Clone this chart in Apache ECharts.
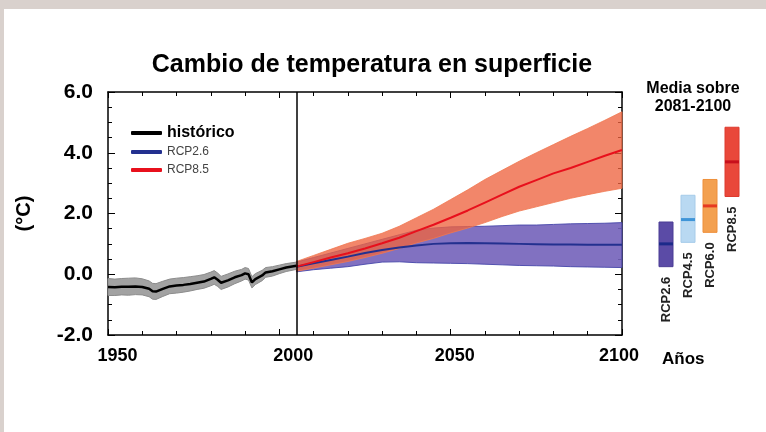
<!DOCTYPE html>
<html><head><meta charset="utf-8">
<script src="https://cdn.jsdelivr.net/npm/echarts@6/dist/echarts.min.js"></script>
<style>html,body{margin:0;padding:0;background:#fff}#c{width:766px;height:432px}</style>
</head><body><div id="c"></div>
<script>
// ---------- data ----------
const xTicks = [1950, 2000, 2050, 2100];
const histYears = [1950,1952,1954,1956,1958,1960,1962,1963,1964,1966,1968,1970,1972,1974,1976,1978,1980,1981,1982,1983,1985,1987,1989,1990,1991,1992,1993,1995,1996,1998,2000,2002,2005];
const histMean  = [-0.42,-0.43,-0.41,-0.41,-0.40,-0.42,-0.48,-0.56,-0.57,-0.48,-0.40,-0.37,-0.35,-0.32,-0.28,-0.24,-0.15,-0.10,-0.18,-0.28,-0.20,-0.10,-0.03,0.03,0.00,-0.27,-0.16,-0.04,0.06,0.10,0.16,0.22,0.28];
const histLow   = [-0.70,-0.70,-0.68,-0.69,-0.67,-0.68,-0.74,-0.82,-0.83,-0.73,-0.64,-0.62,-0.59,-0.55,-0.50,-0.46,-0.38,-0.33,-0.40,-0.50,-0.42,-0.31,-0.22,-0.16,-0.19,-0.45,-0.34,-0.21,-0.10,-0.06,0.02,0.09,0.16];
const histHigh  = [-0.14,-0.16,-0.14,-0.13,-0.12,-0.15,-0.22,-0.30,-0.31,-0.23,-0.16,-0.13,-0.11,-0.08,-0.05,-0.01,0.07,0.12,0.04,-0.07,0.01,0.10,0.16,0.22,0.19,-0.08,0.02,0.13,0.22,0.25,0.30,0.35,0.40];

const rcpYears  = [2005,2010,2015,2020,2025,2030,2035,2040,2045,2050,2055,2060,2065,2070,2075,2080,2085,2090,2095,2100];
const rcp26Mean = [0.25,0.36,0.47,0.58,0.70,0.80,0.88,0.95,1.00,1.02,1.03,1.02,1.01,1.00,0.99,0.98,0.98,0.97,0.97,0.97];
const rcp26Low  = [0.08,0.15,0.20,0.25,0.33,0.40,0.41,0.38,0.37,0.36,0.35,0.33,0.31,0.29,0.28,0.27,0.25,0.24,0.23,0.22];
const rcp26High = [0.40,0.55,0.70,0.85,1.00,1.15,1.30,1.45,1.52,1.56,1.57,1.58,1.60,1.62,1.62,1.64,1.66,1.67,1.68,1.70];
const rcp85Mean = [0.25,0.40,0.55,0.69,0.85,1.02,1.20,1.42,1.63,1.86,2.10,2.36,2.62,2.88,3.10,3.32,3.50,3.70,3.90,4.09];
const rcp85Low  = [0.10,0.20,0.31,0.42,0.55,0.69,0.85,1.03,1.18,1.36,1.52,1.70,1.90,2.08,2.22,2.36,2.50,2.62,2.73,2.83];
const rcp85High = [0.42,0.62,0.82,1.02,1.18,1.35,1.58,1.86,2.14,2.46,2.78,3.12,3.42,3.72,4.00,4.27,4.54,4.80,5.07,5.35];

const periodNames = ['RCP2.6','RCP4.5','RCP6.0','RCP8.5'];
const periodLow   = [0.25,1.05,1.38,2.56];
const periodHigh  = [1.72,2.60,3.12,4.84];
const periodMean  = [1.00,1.80,2.25,3.70];

// ---------- styles ----------
const FONT = 'Liberation Sans, Arial, Helvetica, sans-serif';
const panelStyles = [
  {fill:'#5b4ba6', stroke:'#4a3c94', mean:'#1c2a8a'},
  {fill:'#b9d9f2', stroke:'#a6cbe9', mean:'#3f95d8'},
  {fill:'#f3a050', stroke:'#ee8f3a', mean:'#e63a20'},
  {fill:'#e9483a', stroke:'#dd3a2e', mean:'#c8101c'}
];
const labelPad = {'1950':[0,0,0,19], '2000':[0,0,0,28], '2050':[0,0,0,8], '2100':[0,6,0,0]};

function band(years, lo, hi, fill, stroke) {
  return {
    type: 'custom', xAxisIndex: 0, yAxisIndex: 0, silent: true, z: 2,
    data: years.map((y, i) => [y, lo[i], hi[i]]),
    encode: {x: 0, y: [1, 2]},
    renderItem(params, api) {
      if (params.dataIndex !== 0) return {type: 'group', children: []};
      const pts = [];
      for (let i = 0; i < years.length; i++) pts.push(api.coord([years[i], hi[i]]));
      for (let i = years.length - 1; i >= 0; i--) pts.push(api.coord([years[i], lo[i]]));
      return {type: 'polygon', shape: {points: pts}, style: {fill: fill, stroke: stroke, lineWidth: 1}};
    }
  };
}

const axisLineStyle = {color: '#000', width: 1.5};
const rich = {};
xTicks.forEach(t => { rich['t' + t] = {fontSize: 18, fontWeight: 'bold', fontFamily: FONT, color: '#000', padding: labelPad[t]}; });

const option = {
  backgroundColor: '#fff',
  animation: false,
  title: [
    {text: 'Cambio de temperatura en superficie', left: 367, top: 48, textAlign: 'center',
     textStyle: {fontSize: 25, fontWeight: 'bold', fontFamily: FONT, color: '#000'}},
    {text: 'Media sobre\n2081-2100', left: 688, top: 75, textAlign: 'center',
     textStyle: {fontSize: 16, fontWeight: 'bold', fontFamily: FONT, color: '#000', lineHeight: 18}}
  ],
  legend: {
    orient: 'vertical', left: 126, top: 120, itemWidth: 31, itemHeight: 4, itemGap: 4,
    icon: 'roundRect',
    textStyle: {fontSize: 12, color: '#444', fontFamily: FONT, lineHeight: 14},
    data: [
      {name: 'histórico', textStyle: {fontSize: 16, fontWeight: 'bold', color: '#000'}},
      {name: 'RCP2.6'},
      {name: 'RCP8.5'}
    ]
  },
  grid: [
    {left: 108, top: 92, width: 514, height: 243},
    {left: 655, top: 92, width: 88, height: 243}
  ],
  xAxis: [
    {type: 'value', gridIndex: 0, min: 1950, max: 2100, interval: 50, position: 'bottom',
     axisLine: {onZero: false, lineStyle: axisLineStyle},
     axisTick: {inside: true, length: 6, lineStyle: {color: '#000', width: 1}},
     minorTick: {show: true, splitNumber: 5, length: 4, lineStyle: {color: '#000', width: 1}},
     splitLine: {show: false},
     axisLabel: {margin: 12, formatter: v => '{t' + v + '|' + v + '}', rich: rich},
     name: 'Años', nameLocation: 'end', nameGap: 40,
     nameTextStyle: {fontSize: 17, fontWeight: 'bold', fontFamily: FONT, color: '#000', verticalAlign: 'top', padding: [16, 0, 0, 0]}},
    {type: 'value', gridIndex: 0, min: 1950, max: 2100, interval: 50, position: 'top',
     axisLine: {onZero: false, lineStyle: axisLineStyle},
     axisTick: {inside: true, length: 6, lineStyle: {color: '#000', width: 1}},
     minorTick: {show: true, splitNumber: 5, length: 4, lineStyle: {color: '#000', width: 1}},
     splitLine: {show: false}, axisLabel: {show: false}},
    {type: 'category', gridIndex: 1, data: periodNames, show: false}
  ],
  yAxis: [
    {type: 'value', gridIndex: 0, min: -2, max: 6, interval: 2, position: 'left',
     axisLine: {show: true, onZero: false, lineStyle: axisLineStyle},
     axisTick: {show: true, inside: true, length: 7, lineStyle: {color: '#000', width: 1}},
     minorTick: {show: true, splitNumber: 4, length: 4, lineStyle: {color: '#000', width: 1}},
     splitLine: {show: false},
     axisLabel: {margin: 15, fontSize: 21, fontWeight: 'bold', fontFamily: FONT, color: '#000', formatter: v => v.toFixed(1)},
     name: '(°C)', nameLocation: 'middle', nameRotate: 90, nameGap: 74,
     nameTextStyle: {fontSize: 20, fontWeight: 'bold', fontFamily: FONT, color: '#000'}},
    {type: 'value', gridIndex: 0, min: -2, max: 6, interval: 2, position: 'right',
     axisLine: {show: true, onZero: false, lineStyle: axisLineStyle},
     axisTick: {show: true, inside: true, length: 7, lineStyle: {color: '#000', width: 1}},
     minorTick: {show: true, splitNumber: 4, length: 4, lineStyle: {color: '#000', width: 1}},
     splitLine: {show: false}, axisLabel: {show: false}},
    {type: 'value', gridIndex: 1, min: -2, max: 6, show: false, splitLine: {show: false}}
  ],
  graphic: [
    {type: 'rect', shape: {x: 0, y: 0, width: 766, height: 9}, style: {fill: '#d9d1cd'}, silent: true},
    {type: 'rect', shape: {x: 0, y: 0, width: 4, height: 432}, style: {fill: '#d9d1cd'}, silent: true}
  ],
  series: [
    band(histYears, histLow, histHigh, '#a2a2a2', '#8c8c8c'),
    band(rcpYears, rcp26Low, rcp26High, 'rgba(115,98,186,0.9)', 'rgba(70,70,170,0.9)'),
    band(rcpYears, rcp85Low, rcp85High, 'rgba(238,100,64,0.78)', 'rgba(240,120,80,0.8)'),
    {name: 'histórico', type: 'line', xAxisIndex: 0, yAxisIndex: 0, z: 4, showSymbol: false,
     color: '#000', lineStyle: {width: 2.5, color: '#000'},
     data: histYears.map((y, i) => [y, histMean[i]]),
     markLine: {silent: true, symbol: 'none', label: {show: false},
                lineStyle: {color: '#000', width: 1.5, type: 'solid'}, data: [{xAxis: 2005}]}},
    {name: 'RCP2.6', type: 'line', xAxisIndex: 0, yAxisIndex: 0, z: 4, showSymbol: false,
     color: '#23308f', lineStyle: {width: 2, color: '#23308f'},
     data: rcpYears.map((y, i) => [y, rcp26Mean[i]])},
    {name: 'RCP8.5', type: 'line', xAxisIndex: 0, yAxisIndex: 0, z: 4, showSymbol: false,
     color: '#e8101c', lineStyle: {width: 2, color: '#e8101c'},
     data: rcpYears.map((y, i) => [y, rcp85Mean[i]])},
    {type: 'custom', xAxisIndex: 2, yAxisIndex: 2, silent: true,
     data: periodNames.map((n, i) => [n, periodLow[i], periodHigh[i], periodMean[i]]),
     encode: {x: 0, y: [1, 2, 3]},
     renderItem(params, api) {
       const c = api.value(0);
       const lo = api.coord([c, api.value(1)]);
       const hi = api.coord([c, api.value(2)]);
       const mn = api.coord([c, api.value(3)]);
       const w = 14;
       const s = panelStyles[params.dataIndex];
       return {type: 'group', children: [
         {type: 'rect', shape: {x: lo[0] - w / 2, y: hi[1], width: w, height: lo[1] - hi[1]},
          style: {fill: s.fill, stroke: s.stroke, lineWidth: 1}},
         {type: 'rect', shape: {x: lo[0] - w / 2, y: mn[1] - 1.5, width: w, height: 3}, style: {fill: s.mean}},
         {type: 'text', x: lo[0], y: lo[1] + 10, rotation: Math.PI / 2,
          style: {text: periodNames[params.dataIndex], align: 'right', verticalAlign: 'middle',
                  fontSize: 13, fontWeight: 'bold', fontFamily: FONT, fill: '#222'}}
       ]};
     }}
  ]
};
const chart = echarts.init(document.getElementById('c'));
chart.setOption(option);
</script></body></html>
